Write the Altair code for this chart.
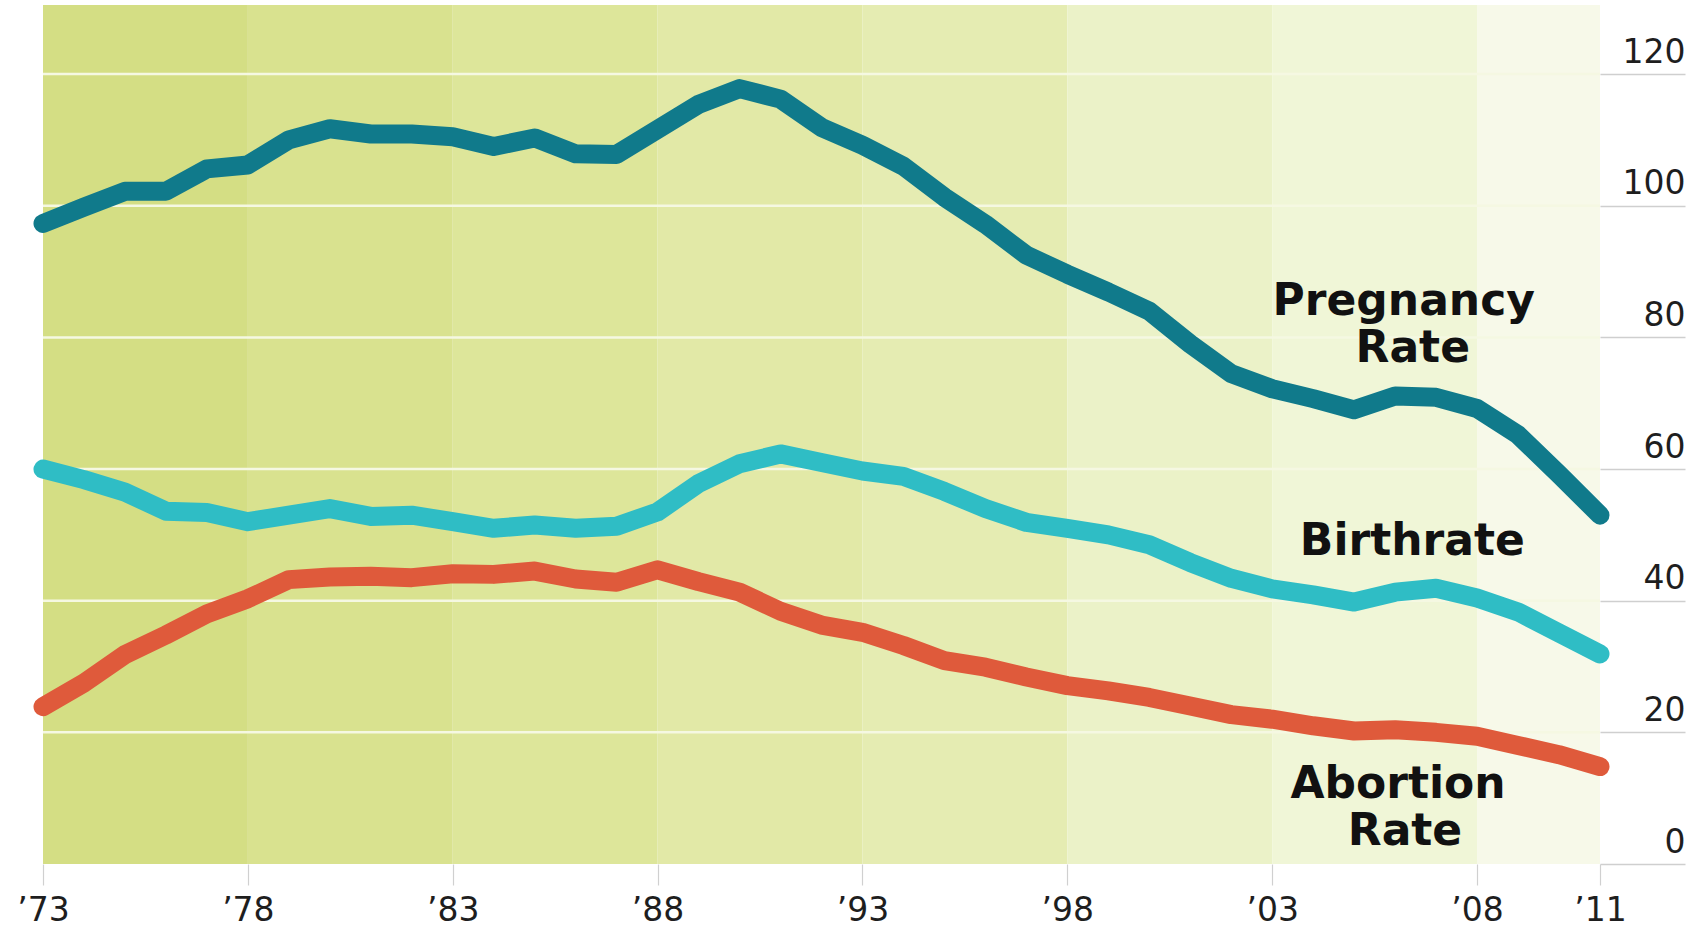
import altair as alt
import pandas as pd

# Teen rates per 1,000, 1973-2011
years = list(range(1973, 2012))
pregnancy = [97.3, 99.8, 102.2, 102.2, 105.6, 106.2, 110.0, 111.7, 110.9, 110.9,
             110.5, 109.0, 110.3, 107.9, 107.8, 111.6, 115.4, 117.8, 116.2, 111.9,
             109.2, 106.0, 101.3, 97.2, 92.5, 89.6, 86.9, 84.0, 79.0, 74.5,
             72.2, 70.7, 69.0, 71.1, 70.9, 69.2, 65.2, 59.2, 53.0]
birthrate = [60.0, 58.4, 56.5, 53.6, 53.4, 52.0, 53.0, 54.0, 52.8, 53.0,
             52.0, 51.0, 51.5, 51.0, 51.3, 53.5, 57.8, 60.8, 62.3, 61.0,
             59.7, 58.9, 56.6, 54.0, 51.9, 51.0, 50.0, 48.5, 45.8, 43.4,
             41.8, 40.9, 39.8, 41.3, 41.9, 40.4, 38.3, 35.1, 31.9]
abortion = [23.9, 27.5, 31.8, 34.8, 38.0, 40.3, 43.2, 43.6, 43.7, 43.5,
            44.1, 44.0, 44.5, 43.3, 42.8, 44.7, 42.9, 41.3, 38.4, 36.3,
            35.2, 33.2, 30.9, 29.9, 28.4, 27.1, 26.3, 25.3, 24.0, 22.7,
            22.0, 21.0, 20.2, 20.4, 20.0, 19.4, 18.0, 16.6, 14.8]

series_names = ["Pregnancy", "Birthrate", "Abortion"]
series_colors = ["#107a8b", "#2fbdc5", "#df5a3b"]

# background bands, one per five-year span, fading to the right
band_start = [1973, 1978, 1983, 1988, 1993, 1998, 2003, 2008]
band_end = [1978, 1983, 1988, 1993, 1998, 2003, 2008, 2011]
band_color = ["#d4de84", "#d9e28f", "#dde69a", "#e2e9a7", "#e5ecb2",
              "#ebf2c8", "#f0f6d7", "#f7f9e9"]

grid_values = [20, 40, 60, 80, 100, 120]
y_ticks = [0, 20, 40, 60, 80, 100, 120]
x_ticks = [1973, 1978, 1983, 1988, 1993, 1998, 2003, 2008, 2011]

# line labels: text, year position, value position
label_text = ["Pregnancy", "Rate", "Birthrate", "Abortion", "Rate"]
label_year = [2006.21, 2006.43, 2006.42, 2006.07, 2006.24]
label_value = [83.4, 76.3, 46.9, 10.0, 2.9]

W, H = 1557, 859
X_DOMAIN = [1973, 2011]
Y_DOMAIN = [0, 130.5]

xs = alt.Scale(domain=X_DOMAIN, nice=False, zero=False)
ys = alt.Scale(domain=Y_DOMAIN, nice=False)

font = "DejaVu Sans"

x_axis = alt.Axis(
    values=x_ticks, title=None, domain=False, grid=False,
    tickSize=21, tickColor="#d0d0d0", tickWidth=1.2,
    labelPadding=9, labelFont=font, labelFontSize=33, labelColor="#1e1e1e",
    labelFlush=False, labelOverlap=False,
    labelExpr="'\u2019' + substring(toString(datum.value), 2, 4)",
)
y_axis = alt.Axis(
    orient="right", values=y_ticks, title=None, domain=False, grid=False,
    tickSize=85, tickColor="#cfcfcf", tickWidth=1.5,
    labelAlign="right", labelBaseline="alphabetic", labelPadding=0,
    labelOffset=-12, labelFont=font, labelFontSize=33, labelColor="#1e1e1e",
    labelFlush=False, labelOverlap=False, labelBound=False,
)

bands = pd.DataFrame({"start": band_start, "end": band_end, "fill": band_color})
grid = pd.DataFrame({"v": grid_values})
lines = pd.DataFrame({
    "year": years * 3,
    "rate": pregnancy + birthrate + abortion,
    "series": [s for s in series_names for _ in years],
})
labels = pd.DataFrame({"text": label_text, "year": label_year, "value": label_value})

band_layer = alt.Chart(bands).mark_rect().encode(
    x=alt.X("start:Q", scale=xs, axis=x_axis),
    x2="end:Q",
    y=alt.value(0),
    y2=alt.value(H),
    fill=alt.Fill("fill:N", scale=None),
)

grid_layer = alt.Chart(grid).mark_rule(color="#f5f8e2", strokeWidth=2.5).encode(
    y=alt.Y("v:Q", scale=ys, axis=y_axis),
)

line_layer = alt.Chart(lines).mark_line(
    strokeWidth=19, strokeCap="round", strokeJoin="round"
).encode(
    x=alt.X("year:Q", scale=xs, axis=x_axis),
    y=alt.Y("rate:Q", scale=ys, axis=y_axis),
    color=alt.Color("series:N", scale=alt.Scale(domain=series_names, range=series_colors),
                    legend=None),
    detail="series:N",
)

text_layer = alt.Chart(labels).mark_text(
    font=font, fontWeight="bold", fontSize=44, color="#111111",
    align="center", baseline="alphabetic",
).encode(
    x=alt.X("year:Q", scale=xs, axis=x_axis),
    y=alt.Y("value:Q", scale=ys, axis=y_axis),
    text="text:N",
)

chart = alt.layer(band_layer, grid_layer, line_layer, text_layer).properties(
    width=W, height=H,
    autosize=alt.AutoSizeParams(type="none"),
    padding={"left": 43, "top": 5, "right": 103, "bottom": 64},
    background="#ffffff",
).configure_view(stroke=None)

chart.save("out.html", embed_options={"renderer": "svg", "actions": False})
